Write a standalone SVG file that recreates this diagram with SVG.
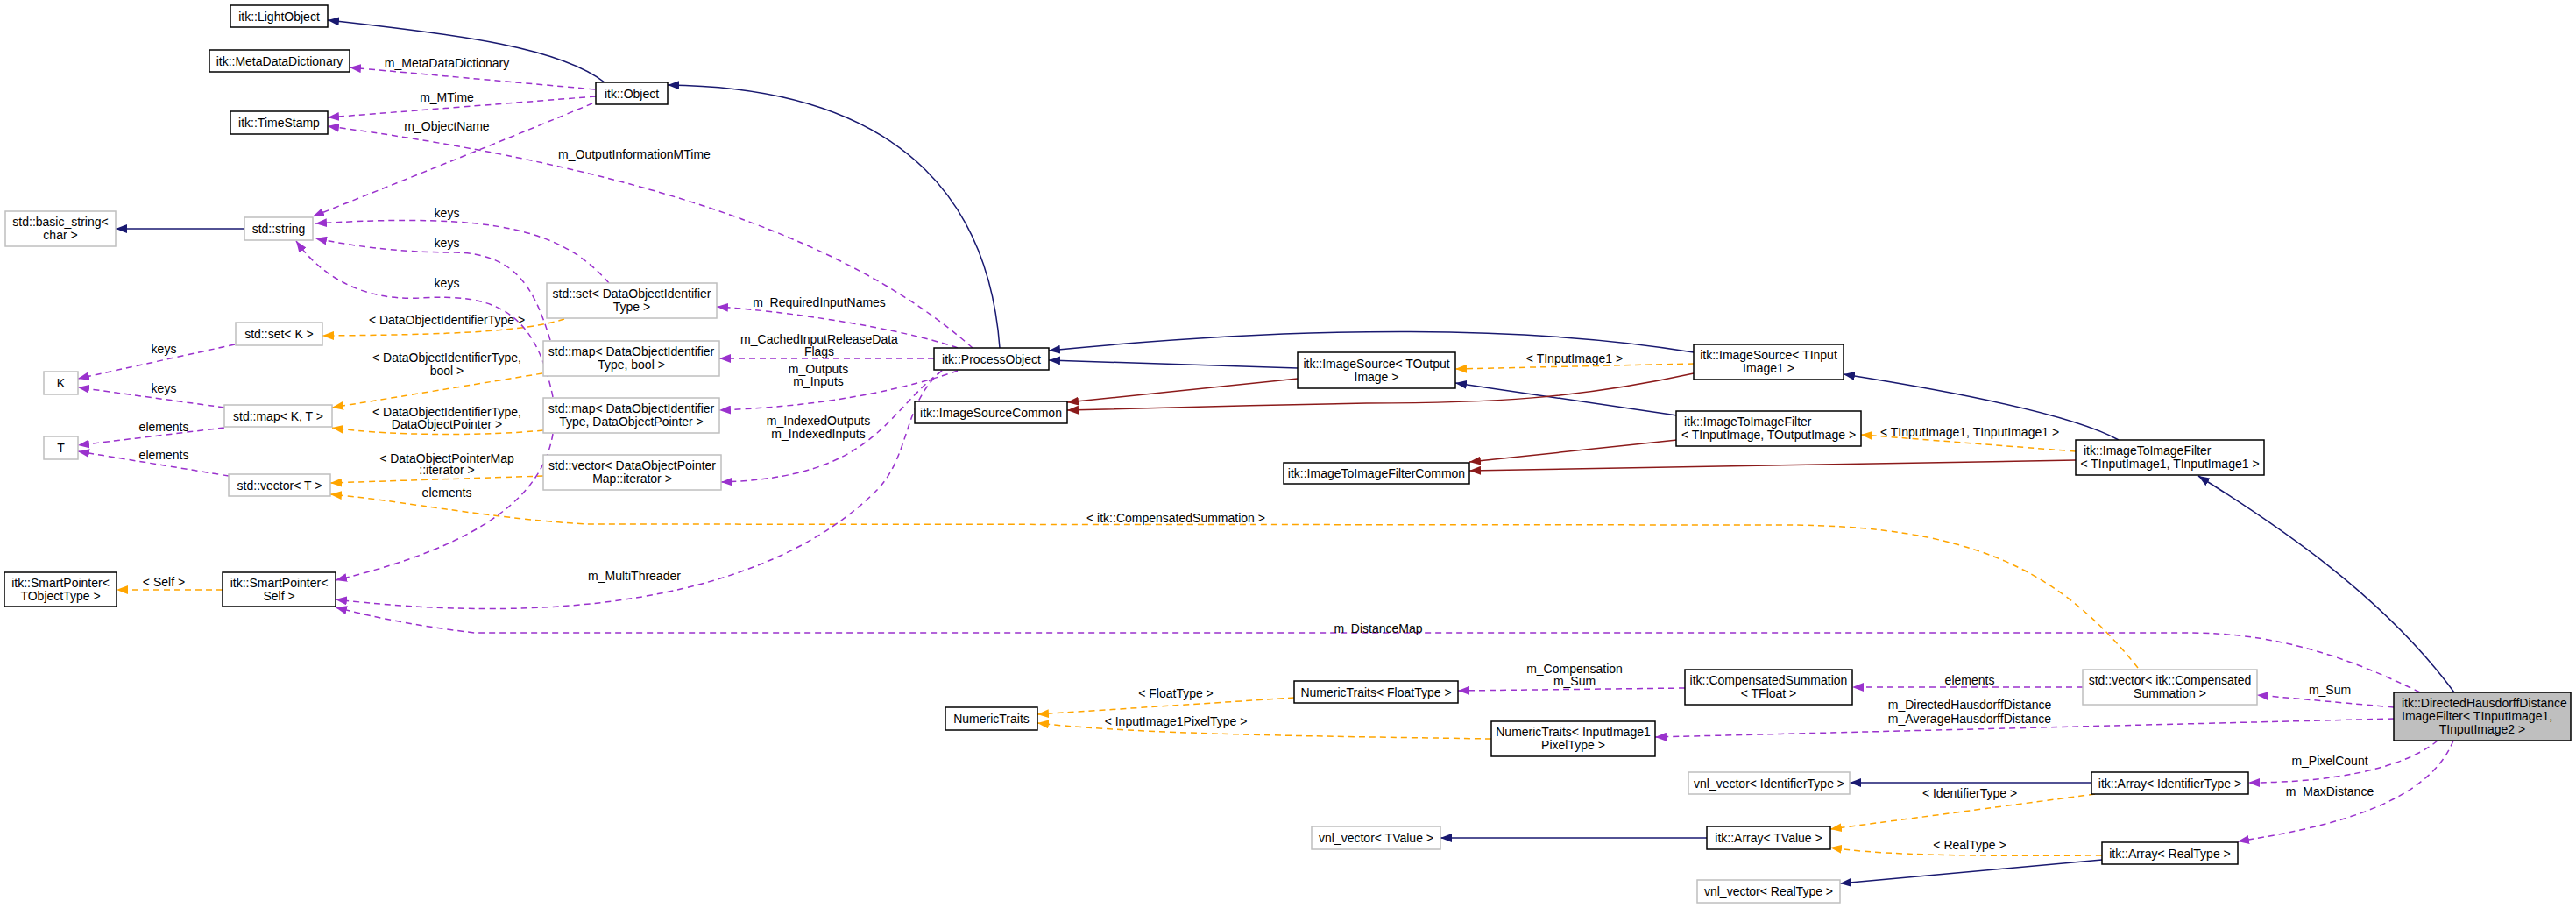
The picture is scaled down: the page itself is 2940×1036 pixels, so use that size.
<svg xmlns="http://www.w3.org/2000/svg" width="2940" height="1036" viewBox="0 0 2940 1036">
<style>
text{font-family:"Liberation Sans",Arial,sans-serif;font-size:14px;fill:#000}
.n text{text-anchor:middle;dominant-baseline:central}
.l{text-anchor:middle;dominant-baseline:central;font-size:14px}
.b rect{fill:#fff;stroke:#000;stroke-width:1.5}
.g rect{fill:#fff;stroke:#bfbfbf;stroke-width:1.5}
.f rect{fill:#bfbfbf;stroke:#000;stroke-width:1.5}
.e path{fill:none;stroke-width:1.5}
.nv{stroke:#191970}
.fr{stroke:#8b1a1a}
.or{stroke:#ffa500;stroke-dasharray:7,5}
.pu{stroke:#9a32cd;stroke-dasharray:7,5}
</style>
<defs>
<marker id="mn" markerUnits="userSpaceOnUse" markerWidth="14" markerHeight="10" refX="13" refY="5" orient="auto"><path d="M0,0 L13,5 L0,10 z" fill="#191970"/></marker>
<marker id="mf" markerUnits="userSpaceOnUse" markerWidth="14" markerHeight="10" refX="13" refY="5" orient="auto"><path d="M0,0 L13,5 L0,10 z" fill="#8b1a1a"/></marker>
<marker id="mo" markerUnits="userSpaceOnUse" markerWidth="14" markerHeight="10" refX="13" refY="5" orient="auto"><path d="M0,0 L13,5 L0,10 z" fill="#ffa500"/></marker>
<marker id="mp" markerUnits="userSpaceOnUse" markerWidth="14" markerHeight="10" refX="13" refY="5" orient="auto"><path d="M0,0 L13,5 L0,10 z" fill="#9a32cd"/></marker>
</defs>
<rect width="2940" height="1036" fill="#fff"/>
<g id="edges" class="e">
<path class="nv" marker-end="url(#mn)" d="M690,94 C640,55 530,40 374,23"/>
<path class="nv" marker-end="url(#mn)" d="M1141,397 C1130,250 1050,100 762,97"/>
<path class="nv" marker-end="url(#mn)" d="M1481,420 L1197,411"/>
<path class="nv" marker-end="url(#mn)" d="M1933,402 C1750,372 1500,370 1197,400"/>
<path class="nv" marker-end="url(#mn)" d="M1914,474 L1661,437"/>
<path class="nv" marker-end="url(#mn)" d="M2418,502 C2370,475 2250,450 2104,427"/>
<path class="nv" marker-end="url(#mn)" d="M2801,790 C2720,680 2600,600 2509,543"/>
<path class="nv" marker-end="url(#mn)" d="M2387,893 L2111,893"/>
<path class="nv" marker-end="url(#mn)" d="M1948,956 L1644,956"/>
<path class="nv" marker-end="url(#mn)" d="M2399,981 L2100,1008"/>
<path class="nv" marker-end="url(#mn)" d="M279,261 L132,261"/>
<path class="fr" marker-end="url(#mf)" d="M1481,432 L1218,459"/>
<path class="fr" marker-end="url(#mf)" d="M1933,426 C1800,455 1700,460 1560,460 C1450,462 1300,466 1218,468"/>
<path class="fr" marker-end="url(#mf)" d="M1914,502 L1677,527"/>
<path class="fr" marker-end="url(#mf)" d="M2369,525 L1677,537"/>
<path class="or" marker-end="url(#mo)" d="M1933,415 L1661,421"/>
<path class="or" marker-end="url(#mo)" d="M2369,515 L2124,496"/>
<path class="or" marker-end="url(#mo)" d="M644,364 C600,378 520,382 368,383"/>
<path class="or" marker-end="url(#mo)" d="M619,426 L379,465"/>
<path class="or" marker-end="url(#mo)" d="M620,491 C560,497 450,498 379,488"/>
<path class="or" marker-end="url(#mo)" d="M620,543 L377,551"/>
<path class="or" marker-end="url(#mo)" d="M2440,762 C2350,650 2250,599 2033,599 L670,598 C560,592 450,570 377,564"/>
<path class="or" marker-end="url(#mo)" d="M254,673 L133,673"/>
<path class="or" marker-end="url(#mo)" d="M1477,796 L1184,815"/>
<path class="or" marker-end="url(#mo)" d="M1702,843 C1500,840 1300,838 1184,825"/>
<path class="or" marker-end="url(#mo)" d="M2391,906 L2089,946"/>
<path class="or" marker-end="url(#mo)" d="M2399,976 C2250,977 2150,976 2089,967"/>
<path class="pu" marker-end="url(#mp)" d="M679,102 L399,77"/>
<path class="pu" marker-end="url(#mp)" d="M680,110 L374,134"/>
<path class="pu" marker-end="url(#mp)" d="M1110,397 C1000,300 800,200 374,144"/>
<path class="pu" marker-end="url(#mp)" d="M676,118 C600,150 450,210 357,247"/>
<path class="pu" marker-end="url(#mp)" d="M695,323 C640,260 560,243 360,255"/>
<path class="pu" marker-end="url(#mp)" d="M628,388 C610,330 590,290 520,288 C450,288 400,280 360,272"/>
<path class="pu" marker-end="url(#mp)" d="M631,453 C610,350 560,335 478,340 C420,343 370,320 338,275"/>
<path class="pu" marker-end="url(#mp)" d="M268,393 L89,432"/>
<path class="pu" marker-end="url(#mp)" d="M256,465 L89,442"/>
<path class="pu" marker-end="url(#mp)" d="M256,488 L89,508"/>
<path class="pu" marker-end="url(#mp)" d="M261,543 L89,515"/>
<path class="pu" marker-end="url(#mp)" d="M1093,397 C1030,375 900,355 818,350"/>
<path class="pu" marker-end="url(#mp)" d="M1066,409 L821,409"/>
<path class="pu" marker-end="url(#mp)" d="M1093,423 C1000,455 900,465 821,468"/>
<path class="pu" marker-end="url(#mp)" d="M1075,423 C1010,470 1000,545 823,550"/>
<path class="pu" marker-end="url(#mp)" d="M1075,423 C1030,460 1040,520 1000,560 C900,660 700,720 383,684"/>
<path class="pu" marker-end="url(#mp)" d="M631,495 C620,560 560,620 383,662"/>
<path class="pu" marker-end="url(#mp)" d="M2762,790 C2680,750 2600,722 2497,722 L542,722 C480,715 430,705 383,693"/>
<path class="pu" marker-end="url(#mp)" d="M2732,807 L2576,793"/>
<path class="pu" marker-end="url(#mp)" d="M2377,784 L2114,784"/>
<path class="pu" marker-end="url(#mp)" d="M1923,785 L1664,788"/>
<path class="pu" marker-end="url(#mp)" d="M2732,820 L1889,841"/>
<path class="pu" marker-end="url(#mp)" d="M2782,845 C2740,880 2650,893 2566,893"/>
<path class="pu" marker-end="url(#mp)" d="M2800,845 C2770,920 2650,945 2554,960"/>
<text class="l" x="1797" y="409">&lt; TInputImage1 &gt;</text>
<text class="l" x="2248" y="493">&lt; TInputImage1, TInputImage1 &gt;</text>
<text class="l" x="510" y="365">&lt; DataObjectIdentifierType &gt;</text>
<text class="l" x="510" y="408">&lt; DataObjectIdentifierType,</text>
<text class="l" x="510" y="423">bool &gt;</text>
<text class="l" x="510" y="470">&lt; DataObjectIdentifierType,</text>
<text class="l" x="510" y="484">DataObjectPointer &gt;</text>
<text class="l" x="510" y="523">&lt; DataObjectPointerMap</text>
<text class="l" x="510" y="536">::iterator &gt;</text>
<text class="l" x="1342" y="591">&lt; itk::CompensatedSummation &gt;</text>
<text class="l" x="187" y="664">&lt; Self &gt;</text>
<text class="l" x="1342" y="791">&lt; FloatType &gt;</text>
<text class="l" x="1342" y="823">&lt; InputImage1PixelType &gt;</text>
<text class="l" x="2248" y="905">&lt; IdentifierType &gt;</text>
<text class="l" x="2248" y="964">&lt; RealType &gt;</text>
<text class="l" x="510" y="72">m_MetaDataDictionary</text>
<text class="l" x="510" y="111">m_MTime</text>
<text class="l" x="510" y="144">m_ObjectName</text>
<text class="l" x="724" y="176">m_OutputInformationMTime</text>
<text class="l" x="510" y="243">keys</text>
<text class="l" x="510" y="277">keys</text>
<text class="l" x="510" y="323">keys</text>
<text class="l" x="187" y="398">keys</text>
<text class="l" x="187" y="443">keys</text>
<text class="l" x="187" y="487">elements</text>
<text class="l" x="187" y="519">elements</text>
<text class="l" x="510" y="562">elements</text>
<text class="l" x="935" y="345">m_RequiredInputNames</text>
<text class="l" x="935" y="387">m_CachedInputReleaseData</text>
<text class="l" x="935" y="401">Flags</text>
<text class="l" x="934" y="421">m_Outputs</text>
<text class="l" x="934" y="435">m_Inputs</text>
<text class="l" x="934" y="480">m_IndexedOutputs</text>
<text class="l" x="934" y="495">m_IndexedInputs</text>
<text class="l" x="724" y="657">m_MultiThreader</text>
<text class="l" x="1573" y="717">m_DistanceMap</text>
<text class="l" x="2659" y="787">m_Sum</text>
<text class="l" x="2248" y="776">elements</text>
<text class="l" x="1797" y="763">m_Compensation</text>
<text class="l" x="1797" y="777">m_Sum</text>
<text class="l" x="2248" y="804">m_DirectedHausdorffDistance</text>
<text class="l" x="2248" y="820">m_AverageHausdorffDistance</text>
<text class="l" x="2659" y="868">m_PixelCount</text>
<text class="l" x="2659" y="903">m_MaxDistance</text>
</g>
<g id="LightObject" class="n b"><rect x="263" y="6" width="111" height="25"/><text x="318.5" y="18.5">itk::LightObject</text></g>
<g id="MetaDataDictionary" class="n b"><rect x="239" y="57" width="160" height="25"/><text x="319" y="69.5">itk::MetaDataDictionary</text></g>
<g id="TimeStamp" class="n b"><rect x="263" y="127" width="111" height="26"/><text x="318.5" y="140">itk::TimeStamp</text></g>
<g id="Object" class="n b"><rect x="680" y="94" width="82" height="25"/><text x="721" y="106.5">itk::Object</text></g>
<g id="basic_string" class="n g"><rect x="6" y="241" width="126" height="40"/><text x="69" y="253">std::basic_string&lt;</text><text x="69" y="268">char &gt;</text></g>
<g id="string" class="n g"><rect x="279" y="248" width="78" height="26"/><text x="318" y="261">std::string</text></g>
<g id="setDOIT" class="n g"><rect x="624" y="323" width="194" height="40"/><text x="721" y="335">std::set&lt; DataObjectIdentifier</text><text x="721" y="350">Type &gt;</text></g>
<g id="setK" class="n g"><rect x="269" y="368" width="99" height="26"/><text x="318.5" y="381">std::set&lt; K &gt;</text></g>
<g id="mapDOITbool" class="n g"><rect x="620" y="389" width="201" height="40"/><text x="720.5" y="401">std::map&lt; DataObjectIdentifier</text><text x="720.5" y="416">Type, bool &gt;</text></g>
<g id="K" class="n g"><rect x="50" y="424" width="39" height="26"/><text x="69.5" y="437">K</text></g>
<g id="mapKT" class="n g"><rect x="256" y="462" width="123" height="25"/><text x="317.5" y="474.5">std::map&lt; K, T &gt;</text></g>
<g id="mapDOITDOP" class="n g"><rect x="620" y="454" width="201" height="40"/><text x="720.5" y="466">std::map&lt; DataObjectIdentifier</text><text x="720.5" y="481">Type, DataObjectPointer &gt;</text></g>
<g id="T" class="n g"><rect x="50" y="498" width="39" height="26"/><text x="69.5" y="511">T</text></g>
<g id="vectorT" class="n g"><rect x="261" y="541" width="116" height="25"/><text x="319" y="553.5">std::vector&lt; T &gt;</text></g>
<g id="vectorDOPM" class="n g"><rect x="620" y="519" width="203" height="40"/><text x="721.5" y="531">std::vector&lt; DataObjectPointer</text><text x="721.5" y="546">Map::iterator &gt;</text></g>
<g id="SmartPointerT" class="n b"><rect x="5" y="653" width="128" height="39"/><text x="69" y="665">itk::SmartPointer&lt;</text><text x="69" y="680">TObjectType &gt;</text></g>
<g id="SmartPointerSelf" class="n b"><rect x="254" y="653" width="129" height="39"/><text x="318.5" y="665">itk::SmartPointer&lt;</text><text x="318.5" y="680">Self &gt;</text></g>
<g id="ProcessObject" class="n b"><rect x="1066" y="397" width="131" height="25"/><text x="1131.5" y="409.5">itk::ProcessObject</text></g>
<g id="ImageSourceCommon" class="n b"><rect x="1044" y="458" width="174" height="25"/><text x="1131" y="470.5">itk::ImageSourceCommon</text></g>
<g id="ImageSourceOut" class="n b"><rect x="1481" y="402" width="180" height="41"/><text x="1571" y="415">itk::ImageSource&lt; TOutput</text><text x="1571" y="430">Image &gt;</text></g>
<g id="IIFCommon" class="n b"><rect x="1465" y="528" width="212" height="24"/><text x="1571" y="540">itk::ImageToImageFilterCommon</text></g>
<g id="ImageSourceIn" class="n b"><rect x="1933" y="393" width="171" height="40"/><text x="2018.5" y="405">itk::ImageSource&lt; TInput</text><text x="2018.5" y="420">Image1 &gt;</text></g>
<g id="IIF_TI_TO" class="n b"><rect x="1913" y="469" width="211" height="40"/><text x="1922" y="481" style="text-anchor:start">itk::ImageToImageFilter</text><text x="2018.5" y="496">&lt; TInputImage, TOutputImage &gt;</text></g>
<g id="IIF_T1_T1" class="n b"><rect x="2369" y="502" width="215" height="40"/><text x="2378" y="514" style="text-anchor:start">itk::ImageToImageFilter</text><text x="2476.5" y="529">&lt; TInputImage1, TInputImage1 &gt;</text></g>
<g id="CompSumTFloat" class="n b"><rect x="1923" y="764" width="191" height="40"/><text x="2018.5" y="776">itk::CompensatedSummation</text><text x="2018.5" y="791">&lt; TFloat &gt;</text></g>
<g id="vectorCS" class="n g"><rect x="2377" y="764" width="199" height="40"/><text x="2476.5" y="776">std::vector&lt; itk::Compensated</text><text x="2476.5" y="791">Summation &gt;</text></g>
<g id="Directed" class="n f"><rect x="2732" y="790" width="202" height="55"/><text x="2741" y="802" style="text-anchor:start">itk::DirectedHausdorffDistance</text><text x="2741" y="817" style="text-anchor:start">ImageFilter&lt; TInputImage1,</text><text x="2833" y="832">TInputImage2 &gt;</text></g>
<g id="NumericTraits" class="n b"><rect x="1079" y="807" width="105" height="26"/><text x="1131.5" y="820">NumericTraits</text></g>
<g id="NTFloat" class="n b"><rect x="1477" y="777" width="187" height="25"/><text x="1570.5" y="789.5">NumericTraits&lt; FloatType &gt;</text></g>
<g id="NTInput" class="n b"><rect x="1702" y="823" width="187" height="40"/><text x="1795.5" y="835">NumericTraits&lt; InputImage1</text><text x="1795.5" y="850">PixelType &gt;</text></g>
<g id="vnlId" class="n g"><rect x="1927" y="881" width="184" height="25"/><text x="2019" y="893.5">vnl_vector&lt; IdentifierType &gt;</text></g>
<g id="ArrayId" class="n b"><rect x="2387" y="881" width="179" height="25"/><text x="2476.5" y="893.5">itk::Array&lt; IdentifierType &gt;</text></g>
<g id="vnlTValue" class="n g"><rect x="1497" y="943" width="147" height="26"/><text x="1570.5" y="956">vnl_vector&lt; TValue &gt;</text></g>
<g id="ArrayTValue" class="n b"><rect x="1948" y="943" width="141" height="26"/><text x="2018.5" y="956">itk::Array&lt; TValue &gt;</text></g>
<g id="ArrayReal" class="n b"><rect x="2399" y="961" width="155" height="25"/><text x="2476.5" y="973.5">itk::Array&lt; RealType &gt;</text></g>
<g id="vnlReal" class="n g"><rect x="1937" y="1004" width="163" height="26"/><text x="2018.5" y="1017">vnl_vector&lt; RealType &gt;</text></g>
</svg>
